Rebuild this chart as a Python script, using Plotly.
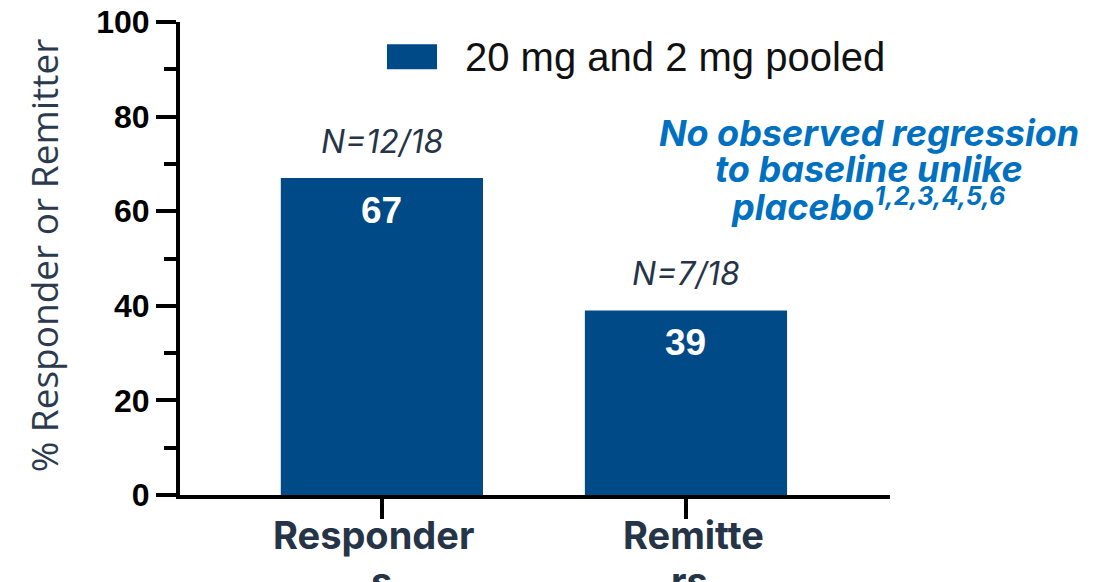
import plotly.graph_objects as go

# Chart data
categories = ["Responders", "Remitters"]
category_lines = [["Responder", "s"], ["Remitte", "rs"]]
percent = [67, 39]
n_labels = ["N=12/18", "N=7/18"]
series_name = "20 mg and 2 mg pooled"
note_lines = ["No observed regression", "to baseline unlike", "placebo<sup>1,2,3,4,5,6</sup>"]
y_ticks = [0, 20, 40, 60, 80, 100]
y_minor_ticks = [10, 30, 50, 70, 90]
y_title = "% Responder or Remitter"

BAR = "#004A87"
SLATE = "#253446"
NOTE_BLUE = "#0070C0"
ARIAL = "Liberation Sans, Arial, sans-serif"
INTER = "Inter, Roboto, sans-serif"

fig = go.Figure(
    go.Bar(
        x=categories,
        y=percent,
        width=0.665,
        marker=dict(color=BAR, line=dict(width=0)),
        name=series_name,
        showlegend=False,
    )
)

annotations = []

# value inside each bar
for cat, val in zip(categories, percent):
    annotations.append(dict(
        x=cat, y=val, xref="x", yref="y", text=str(val), showarrow=False,
        yanchor="middle", yshift=-32,
        font=dict(family=ARIAL, size=37, color="white", weight="bold"),
    ))

# sample size above each bar
for cat, val, lab in zip(categories, percent, n_labels):
    annotations.append(dict(
        x=cat, y=val, xref="x", yref="y", text=lab, showarrow=False,
        yanchor="middle", yshift=37,
        font=dict(family=INTER, size=32, color=SLATE, style="italic"),
    ))

# wrapped category labels under the axis (first line sits slightly off-centre)
line_y = [-0.0845, -0.1817]
line_xshift = [[-8, 0], [8, 4]]
for cat, lines, shifts in zip(categories, category_lines, line_xshift):
    for ly, txt, dx in zip(line_y, lines, shifts):
        annotations.append(dict(
            x=cat, y=ly, xref="x", yref="paper", text=txt, showarrow=False,
            yanchor="middle", xshift=dx,
            font=dict(family=INTER, size=38, color=SLATE, weight="bold"),
        ))

# explanatory note
note_y = [0.766, 0.690, 0.614]
for ny, txt in zip(note_y, note_lines):
    annotations.append(dict(
        x=0.970, y=ny, xref="paper", yref="paper", text=txt, showarrow=False,
        xanchor="center", yanchor="middle",
        font=dict(family=INTER, size=36, color=NOTE_BLUE, weight="bold", style="italic"),
    ))

# legend entry
annotations.append(dict(
    x=0.3986, y=0.926, xref="paper", yref="paper", text=series_name, showarrow=False,
    xanchor="left", yanchor="middle",
    font=dict(family=ARIAL, size=40, color="#111111"),
))

# y-axis title
annotations.append(dict(
    x=-0.192, y=0.506, xref="paper", yref="paper", text=y_title, showarrow=False,
    textangle=-90, xanchor="center", yanchor="middle",
    font=dict(family="Open Sans, sans-serif", size=37, color="#2b3b4d"),
))

fig.update_layout(
    width=1117,
    height=582,
    margin=dict(l=180, r=227, t=22, b=87),
    paper_bgcolor="white",
    plot_bgcolor="white",
    annotations=annotations,
    shapes=[dict(
        type="rect", xref="paper", yref="paper",
        x0=0.2915, x1=0.362, y0=0.900, y1=0.953,
        fillcolor=BAR, line=dict(width=0),
    )],
    xaxis=dict(
        type="category",
        range=[-0.664, 1.671],
        automargin=False,
        showline=True, linewidth=4, linecolor="black",
        ticks="outside", ticklen=20, tickwidth=4, tickcolor="black",
        showticklabels=False, showgrid=False, zeroline=False,
    ),
    yaxis=dict(
        range=[0, 100],
        automargin=False,
        tickvals=y_ticks,
        showline=True, linewidth=4, linecolor="black",
        ticks="outside", ticklen=20, tickwidth=4, tickcolor="black",
        minor=dict(tickvals=y_minor_ticks, ticks="outside", ticklen=12,
                   tickwidth=4, tickcolor="black"),
        tickfont=dict(family=ARIAL, size=32, color="black", weight="bold"),
        showgrid=False, zeroline=False,
    ),
)

fig.write_html("out.html")
